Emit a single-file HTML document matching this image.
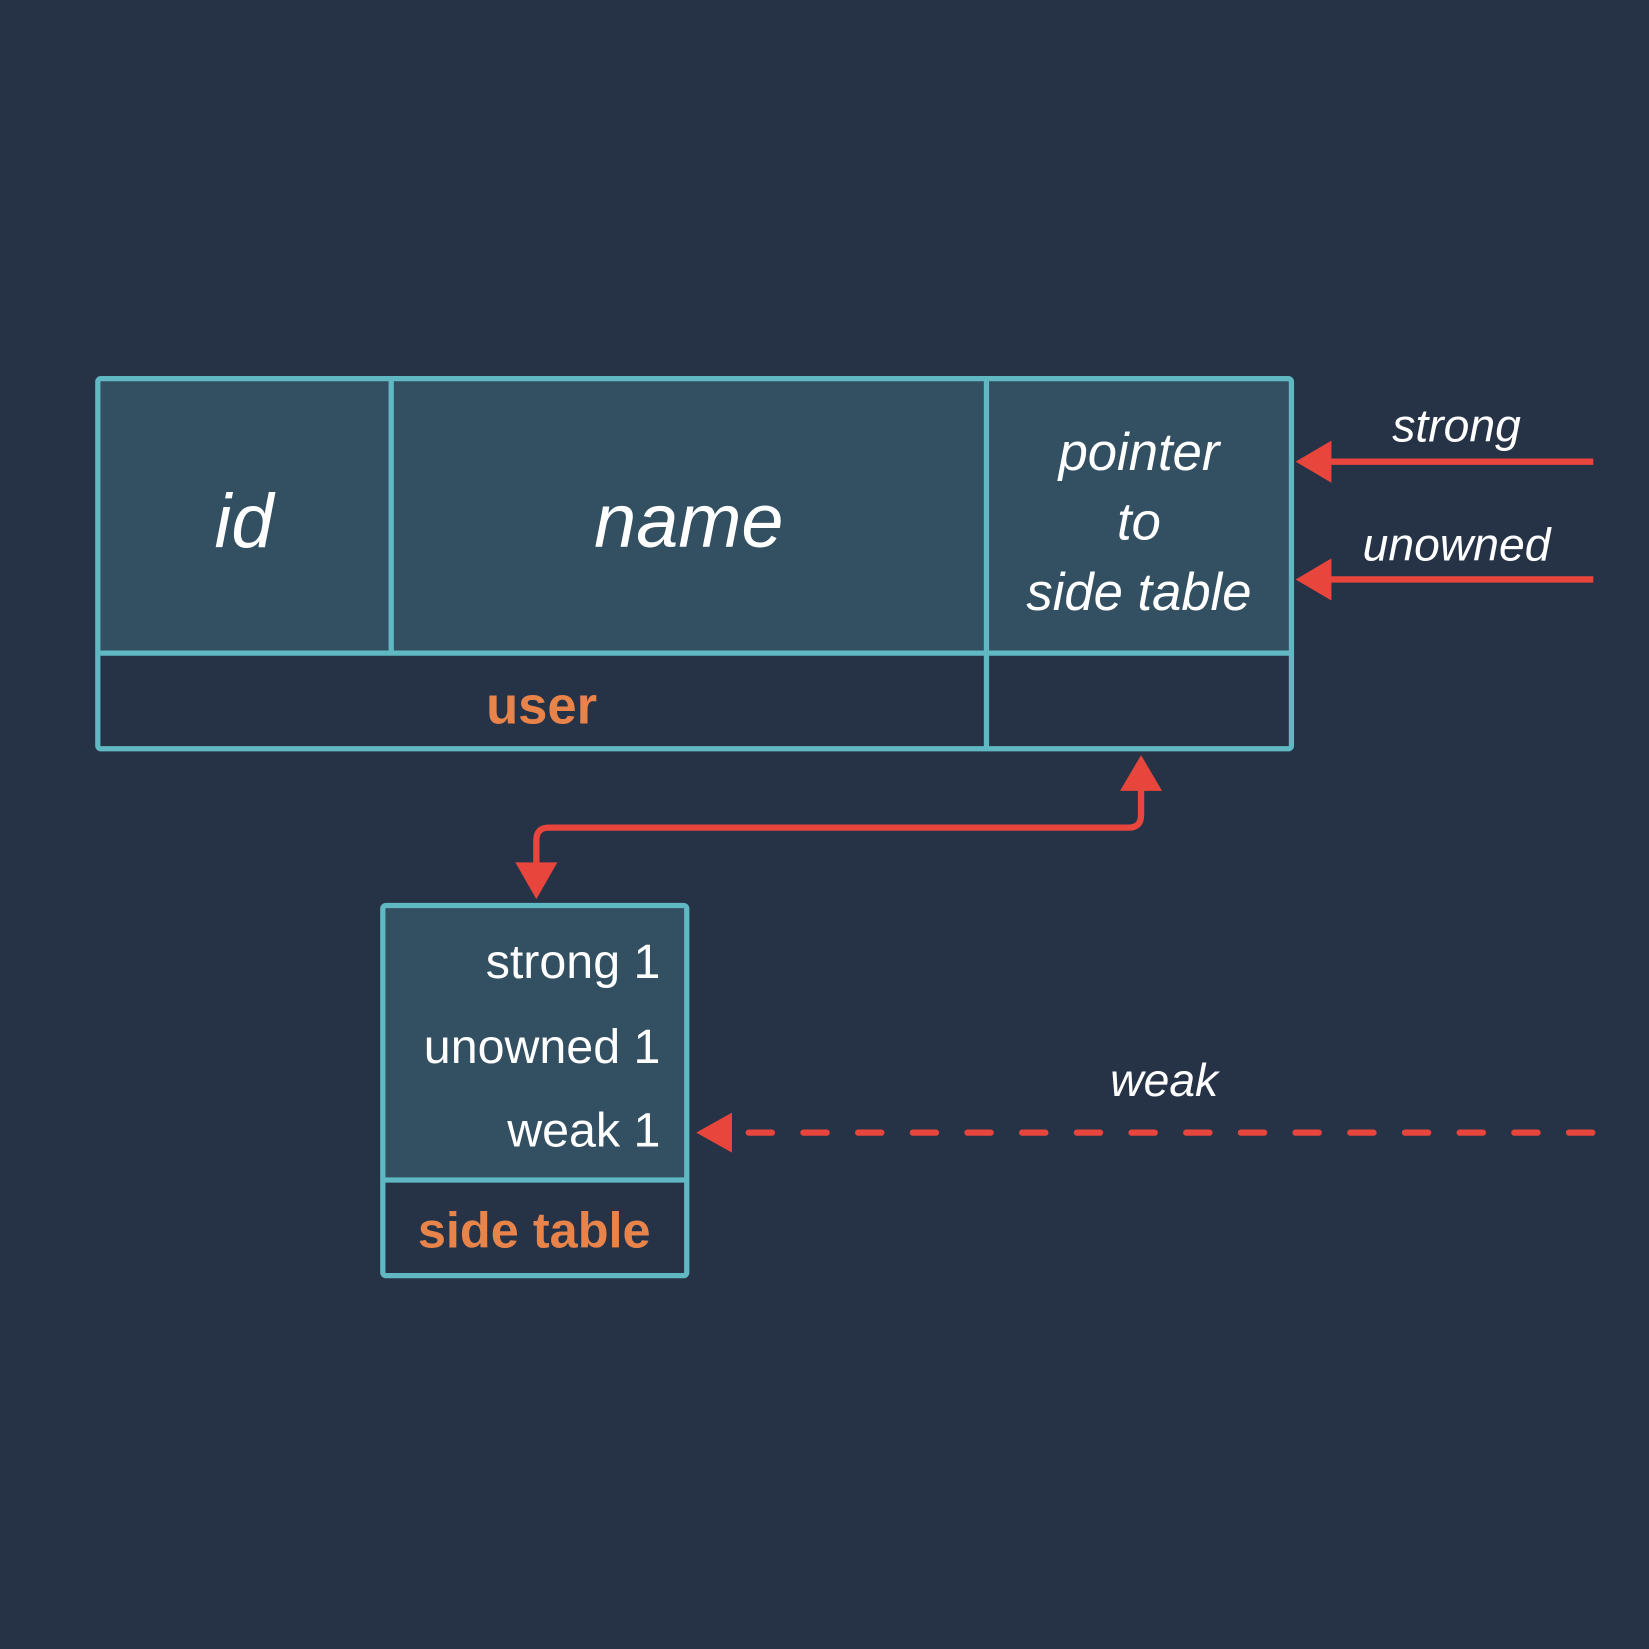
<!DOCTYPE html>
<html><head><style>html,body{margin:0;padding:0;background:#263347;}svg{display:block}</style></head>
<body>
<svg width="1649" height="1649" viewBox="0 0 1568 1568" xmlns="http://www.w3.org/2000/svg">
<rect width="1568" height="1568" fill="#263347"/>
<g font-family="'Liberation Sans', 'DejaVu Sans', sans-serif">
<!-- user box -->
<rect x="93" y="360" width="1135" height="261" fill="#334f62"/>
<rect x="93" y="360" width="1135" height="352" rx="3" fill="none" stroke="#5fb8c2" stroke-width="5"/>
<line x1="93" y1="621" x2="1228" y2="621" stroke="#5fb8c2" stroke-width="5"/>
<line x1="372" y1="360" x2="372" y2="621" stroke="#5fb8c2" stroke-width="5"/>
<line x1="938" y1="360" x2="938" y2="712" stroke="#5fb8c2" stroke-width="5"/>
<text x="232" y="520" font-size="72" font-style="italic" fill="#fff" text-anchor="middle">id</text>
<text x="655" y="520" font-size="72" font-style="italic" fill="#fff" text-anchor="middle">name</text>
<text x="1083" y="447" font-size="50" font-style="italic" fill="#fff" text-anchor="middle">pointer</text>
<text x="1083" y="513" font-size="50" font-style="italic" fill="#fff" text-anchor="middle">to</text>
<text x="1083" y="580" font-size="50" font-style="italic" fill="#fff" text-anchor="middle">side table</text>
<text x="515" y="688" font-size="50" font-weight="bold" fill="#e8834a" text-anchor="middle">user</text>
<!-- side table -->
<rect x="364" y="861" width="289" height="261" fill="#334f62"/>
<rect x="364" y="861" width="289" height="352" rx="3" fill="none" stroke="#5fb8c2" stroke-width="5"/>
<line x1="364" y1="1122" x2="653" y2="1122" stroke="#5fb8c2" stroke-width="5"/>
<text x="628" y="930" font-size="46" fill="#fff" text-anchor="end">strong 1</text>
<text x="628" y="1011" font-size="46" fill="#fff" text-anchor="end">unowned 1</text>
<text x="628" y="1090" font-size="46" fill="#fff" text-anchor="end">weak 1</text>
<text x="508" y="1186" font-size="48" font-weight="bold" fill="#e8834a" text-anchor="middle">side table</text>
<!-- arrows -->
<g stroke="#e8453c" stroke-width="6" fill="none">
<line x1="1515" y1="439" x2="1262" y2="439"/>
<line x1="1515" y1="551" x2="1262" y2="551"/>
<path d="M1085 750 V775 Q1085 787 1073 787 H522 Q510 787 510 799 V822"/>
<line x1="712" y1="1077" x2="1515" y2="1077" stroke-dasharray="22 30" stroke-linecap="round"/>
</g>
<g fill="#e8453c">
<polygon points="1232,439 1266,419 1266,459"/>
<polygon points="1232,551 1266,531 1266,571"/>
<polygon points="1085,718 1065,752 1105,752"/>
<polygon points="510,855 490,820 530,820"/>
<polygon points="662,1077 696,1058 696,1096"/>
</g>
<text x="1385" y="420" font-size="44" font-style="italic" fill="#fff" text-anchor="middle">strong</text>
<text x="1385" y="533" font-size="44" font-style="italic" fill="#fff" text-anchor="middle">unowned</text>
<text x="1107" y="1042" font-size="44" font-style="italic" fill="#fff" text-anchor="middle">weak</text>
</g>
</svg>
</body></html>
